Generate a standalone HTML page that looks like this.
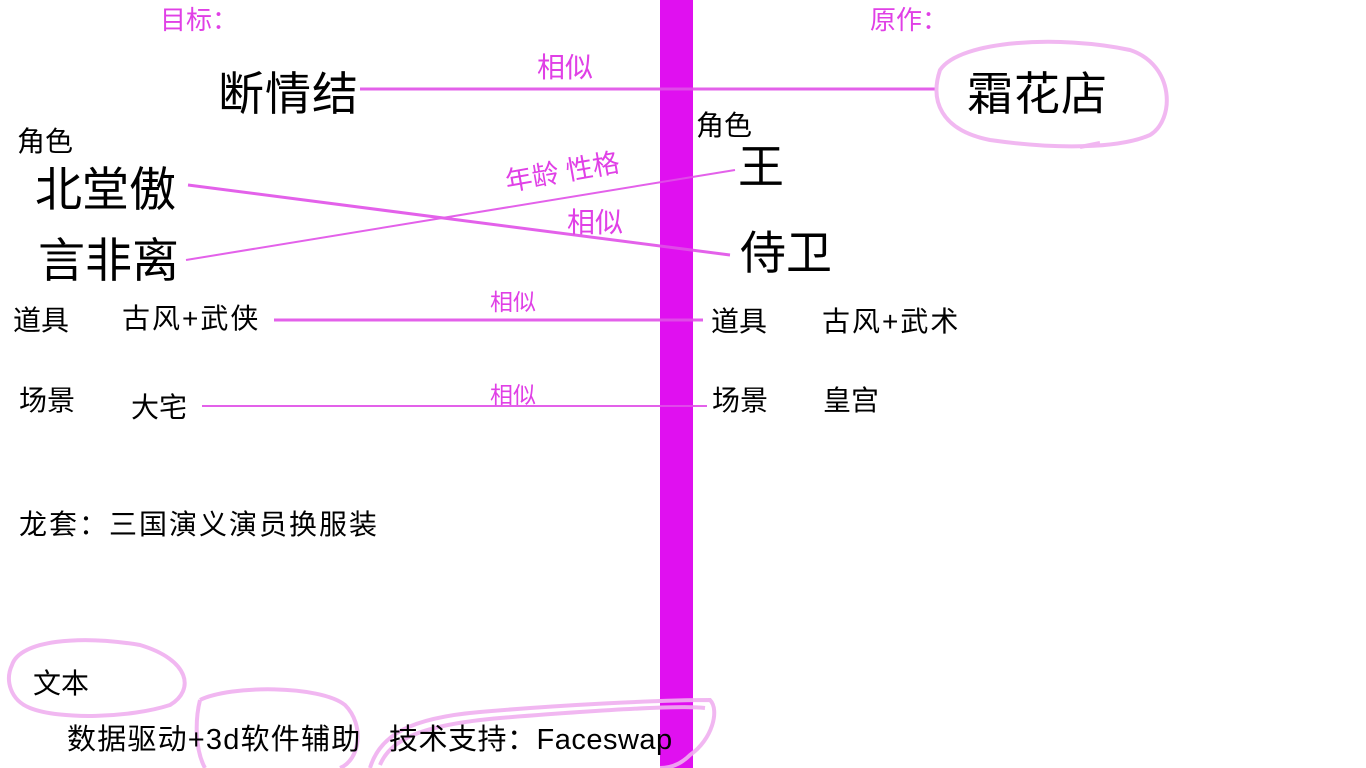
<!DOCTYPE html>
<html><head><meta charset="utf-8"><style>
body{margin:0;width:1366px;height:768px;background:#fff;position:relative;overflow:hidden;font-family:"Liberation Sans","Noto Sans CJK SC",sans-serif;}
.t{position:absolute;white-space:nowrap;line-height:1;color:#000;}
.m{color:#e040e6;}
svg{position:absolute;left:0;top:0;}
</style></head><body>
<div style="position:absolute;left:660px;top:0;width:33px;height:768px;background:#e010f0"></div>
<svg width="1366" height="768">
<g stroke="#e050e8" fill="none" opacity="0.9">
<line x1="360" y1="89" x2="935" y2="89" stroke-width="3"/>
<line x1="188" y1="185" x2="730" y2="255" stroke-width="3"/>
<line x1="186" y1="260" x2="735" y2="170" stroke-width="2"/>
<line x1="274" y1="320" x2="703" y2="320" stroke-width="3"/>
<line x1="202" y1="406" x2="707" y2="406" stroke-width="2"/>
</g>
<g stroke="#f0b0f0" fill="none" stroke-width="4" opacity="0.9">
<path d="M940 70 C960 40,1060 35,1130 50 C1175 65,1175 120,1150 135 C1120 148,1060 150,990 140 C940 130,930 100,940 70 Z"/>
<path d="M1080 147 L1100 143"/>
<path d="M12 665 C20 640,80 635,140 645 C190 660,195 690,170 705 C130 718,60 720,30 708 C10 700,5 680,12 665 Z"/>
<path d="M200 700 C230 685,320 685,345 705 C365 725,360 760,340 768 M200 700 C195 720,195 750,205 768"/>
<path d="M370 768 C380 735,410 718,480 712 C560 705,660 700,710 700 C720 710,712 740,690 755 C680 765,670 768,660 768"/>
<path d="M380 765 C390 740,420 725,500 718 C600 710,680 705,705 708"/>
</g>
</svg>
<div class="t m" style="left:160px;top:7px;font-size:26px">目标：</div>
<div class="t m" style="left:870px;top:7px;font-size:26px">原作：</div>
<div class="t m" style="left:537px;top:54px;font-size:28px">相似</div>
<div class="t" style="left:218px;top:71px;font-size:46px;letter-spacing:1px">断情结</div>
<div class="t" style="left:967px;top:71px;font-size:46px;letter-spacing:1px">霜花店</div>
<div class="t" style="left:17px;top:128px;font-size:28px">角色</div>
<div class="t" style="left:696px;top:112px;font-size:28px">角色</div>
<div class="t" style="left:35px;top:166px;font-size:47px">北堂傲</div>
<div class="t" style="left:38px;top:237px;font-size:47px">言非离</div>
<div class="t" style="left:738px;top:144px;font-size:46px">王</div>
<div class="t" style="left:740px;top:230px;font-size:46px">侍卫</div>
<div class="t m" style="left:508px;top:169px;font-size:27px;transform:rotate(-10deg);transform-origin:left bottom">年龄 性格</div>
<div class="t m" style="left:567px;top:209px;font-size:28px">相似</div>
<div class="t" style="left:13px;top:307px;font-size:28px">道具</div>
<div class="t" style="left:122px;top:305px;font-size:28px;letter-spacing:2px">古风+武侠</div>
<div class="t m" style="left:490px;top:291px;font-size:23px">相似</div>
<div class="t" style="left:711px;top:308px;font-size:28px">道具</div>
<div class="t" style="left:822px;top:308px;font-size:28px;letter-spacing:2px">古风+武术</div>
<div class="t" style="left:19px;top:387px;font-size:28px">场景</div>
<div class="t" style="left:131px;top:394px;font-size:28px">大宅</div>
<div class="t m" style="left:490px;top:384px;font-size:23px">相似</div>
<div class="t" style="left:712px;top:387px;font-size:28px">场景</div>
<div class="t" style="left:823px;top:387px;font-size:28px">皇宫</div>
<div class="t" style="left:19px;top:511px;font-size:28px;letter-spacing:2px">龙套：三国演义演员换服装</div>
<div class="t" style="left:33px;top:670px;font-size:28px">文本</div>
<div class="t" style="left:67px;top:726px;font-size:29px;letter-spacing:1.2px">数据驱动+3d软件辅助</div>
<div class="t" style="left:389px;top:726px;font-size:29px;letter-spacing:0.5px">技术支持：Faceswap</div>
</body></html>
